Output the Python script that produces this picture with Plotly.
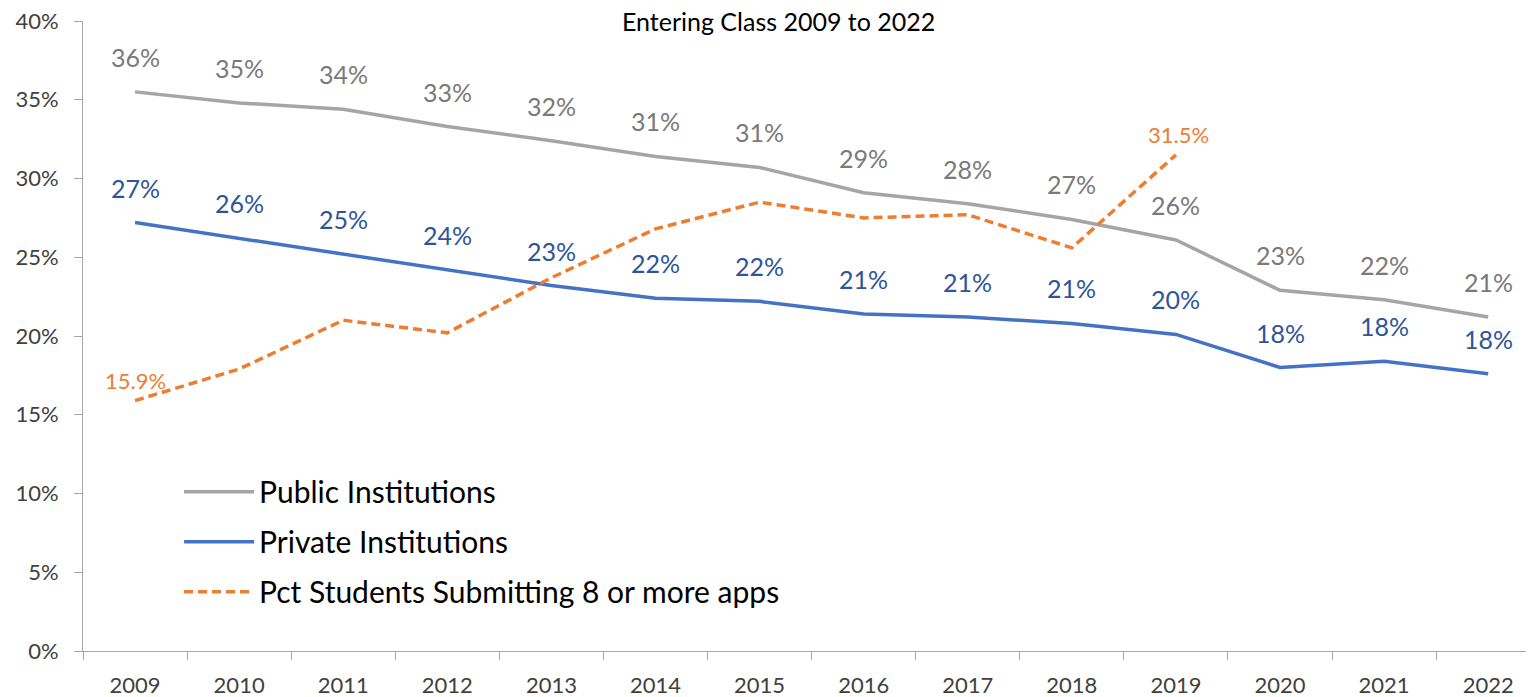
import plotly.graph_objects as go

years = [str(y) for y in range(2009, 2023)]
public = [35.5, 34.8, 34.4, 33.3, 32.4, 31.4, 30.7, 29.1, 28.4, 27.4, 26.1, 22.9, 22.3, 21.2]
private = [27.2, 26.2, 25.2, 24.2, 23.2, 22.4, 22.2, 21.4, 21.2, 20.8, 20.1, 18.0, 18.4, 17.6]
apps_years = [str(y) for y in range(2009, 2020)]
apps = [15.9, 17.9, 21.0, 20.2, 23.7, 26.8, 28.5, 27.5, 27.7, 25.6, 31.5]
public_labels = ["36%", "35%", "34%", "33%", "32%", "31%", "31%", "29%", "28%", "27%", "26%", "23%", "22%", "21%"]
private_labels = ["27%", "26%", "25%", "24%", "23%", "22%", "22%", "21%", "21%", "21%", "20%", "18%", "18%", "18%"]
apps_labels = {"2009": "15.9%", "2019": "31.5%"}
ytick_vals = [0, 5, 10, 15, 20, 25, 30, 35, 40]
ytick_text = [f"{v}%" for v in ytick_vals]

FONT = "Lato"
GRAY = "#A5A5A5"
GRAY_TXT = "#7A7A7A"
BLUE = "#4472C4"
BLUE_TXT = "#2F5597"
ORANGE = "#ED7D31"

W, H = 1526, 689  # page body has an 8px margin

fig = go.Figure()
fig.add_trace(go.Scatter(x=years, y=public, mode="lines", name="Public Institutions",
                         line=dict(color=GRAY, width=3.5), legendgroup="a"))
fig.add_trace(go.Scatter(x=years, y=private, mode="lines", name="Private Institutions",
                         line=dict(color=BLUE, width=3.5), legendgroup="b"))
fig.add_trace(go.Scatter(x=apps_years, y=apps, mode="lines", name="Pct Students Submitting 8 or more apps",
                         line=dict(color=ORANGE, width=3.5, dash="9px,5px"), legendgroup="c"))

for i, (y, t) in enumerate(zip(public, public_labels)):
    fig.add_annotation(x=i, y=y, text=t, showarrow=False, yshift=35,
                       font=dict(family=FONT, size=25, color=GRAY_TXT))
for i, (y, t) in enumerate(zip(private, private_labels)):
    fig.add_annotation(x=i, y=y, text=t, showarrow=False, yshift=35,
                       font=dict(family=FONT, size=25, color=BLUE_TXT))
for i, (x, y) in enumerate(zip(apps_years, apps)):
    if x in apps_labels:
        fig.add_annotation(x=i, y=y, text=apps_labels[x], showarrow=False, yshift=20,
                           xshift=3 if x == "2019" else 0,
                           font=dict(family=FONT, size=22, color=ORANGE))

fig.update_layout(
    width=W, height=H,
    margin=dict(l=75, r=0, t=13, b=46, autoexpand=False),
    paper_bgcolor="white", plot_bgcolor="white",
    font=dict(family=FONT, size=22, color="#404040"),
    title=dict(text="Entering Class 2009 to 2022", x=0.505, xanchor="center",
               y=1 - 14 / H, yanchor="middle", yref="container",
               font=dict(family=FONT, size=25, color="black")),
    showlegend=True,
    legend=dict(x=0.0662, y=0.294, xanchor="left", yanchor="top",
                font=dict(family=FONT, size=30, color="black"),
                itemwidth=70, tracegroupgap=8, bgcolor="rgba(0,0,0,0)"),
    xaxis=dict(type="category", range=[-0.5, 13.44], showline=True, linecolor="#A6A6A6",
               linewidth=1, ticks="outside", tickson="boundaries", ticklen=8,
               tickcolor="#A6A6A6", showgrid=False, zeroline=False, ticklabeloverflow="allow",
               tickfont=dict(family=FONT, size=22, color="#404040"), ticklabelstandoff=15),
    yaxis=dict(range=[0, 40], tickvals=ytick_vals, ticktext=ytick_text, showline=True,
               linecolor="#A6A6A6", linewidth=1, ticks="outside", ticklen=8,
               tickcolor="#A6A6A6", showgrid=False, zeroline=False, ticklabeloverflow="allow",
               tickfont=dict(family=FONT, size=22, color="#404040"), ticklabelstandoff=11),
)

fig.write_html("out.html")
